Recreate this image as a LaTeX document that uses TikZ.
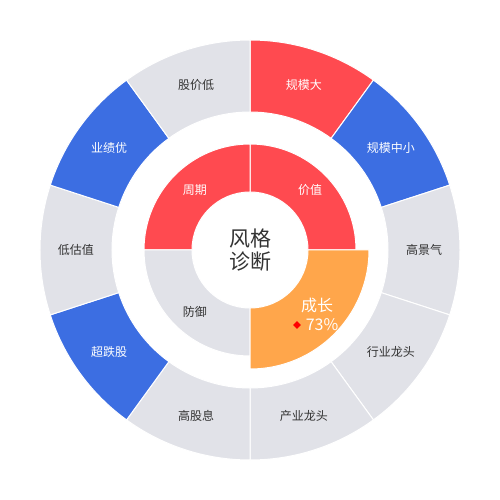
\documentclass[tikz,border=0pt]{standalone}
\usepackage{fontspec}
\setmainfont{Noto Sans CJK SC}
\usetikzlibrary{shapes.geometric}

\begin{document}
\begin{tikzpicture}
		[x=1pt,y=1pt,
		%Styles
		segment/.style={draw=white,line width=1pt},
		outer label/.style={font=\fontsize{12}{14}\selectfont,inner sep=0pt},
		inner label/.style={font=\fontsize{12}{14}\selectfont,inner sep=0pt},
		centre text/.style={font=\fontsize{21}{23}\selectfont,align=center,text=black!80,inner sep=0pt},
		marker/.style={diamond,fill=red,inner sep=0pt,minimum size=8pt}
		]
		
		%Colors
		\definecolor{hotred}{HTML}{FF4A50}
		\definecolor{coolblue}{HTML}{3C6EE2}
		\definecolor{paleslate}{HTML}{E1E2E8}
		\definecolor{warmorange}{HTML}{FFA64B}
		\definecolor{labelgray}{HTML}{333333}
		
		\useasboundingbox (-250pt,-250pt) rectangle (250pt,250pt);
		
		%Outer ring
		\foreach \a/\txt/\col/\tcol [count=\i] in {
				90/规模大/hotred/white,
				54/规模中小/coolblue/white,
				18/高景气/paleslate/labelgray,
				-18/行业龙头/paleslate/labelgray,
				-54/产业龙头/paleslate/labelgray,
				-90/高股息/paleslate/labelgray,
				-126/超跌股/coolblue/white,
				-162/低估值/paleslate/labelgray,
				-198/业绩优/coolblue/white,
				-234/股价低/paleslate/labelgray}{
			\fill[\col,segment] (\a:138pt) arc[start angle=\a,delta angle=-36,radius=138pt]
				-- (\a-36:210pt) arc[start angle=\a-36,delta angle=36,radius=210pt] -- cycle;
			\node[outer label,text=\tcol] (seg\i) at (\a-18:174pt) {\txt};
		}
		
		%Inner ring
		\fill[hotred,segment] (0:58pt) -- (0:106pt) arc[start angle=0,end angle=90,radius=106pt]
			-- (90:58pt) arc[start angle=90,end angle=0,radius=58pt] -- cycle;
		\fill[hotred,segment] (90:58pt) -- (90:106pt) arc[start angle=90,end angle=180,radius=106pt]
			-- (180:58pt) arc[start angle=180,end angle=90,radius=58pt] -- cycle;
		\fill[paleslate,segment] (180:58pt) -- (180:106pt) arc[start angle=180,end angle=270,radius=106pt]
			-- (270:58pt) arc[start angle=270,end angle=180,radius=58pt] -- cycle;
		\fill[warmorange,segment] (270:58pt) -- (270:119pt) arc[start angle=270,end angle=360,radius=119pt]
			-- (0:58pt) arc[start angle=360,end angle=270,radius=58pt] -- cycle;
		
		\node[inner label,text=white] (value) at (60pt,60pt) {价值};
		\node[inner label,text=white] (cycle) at (-55pt,60pt) {周期};
		\node[inner label,text=labelgray] (defence) at (-55pt,-62pt) {防御};
		\node[font=\fontsize{16}{16}\selectfont,text=white,inner sep=0pt] (growth) at (67pt,-55pt) {成长};
		\node[font=\fontsize{16}{16}\selectfont,text=white,inner sep=0pt] (pct) at (72pt,-75pt) {73\%};
		\node[marker] (mark) at (47pt,-75pt) {};
		
		%Centre
		\node[centre text] (title) at (0,0) {风格\\诊断};
	\end{tikzpicture}
\end{document}
